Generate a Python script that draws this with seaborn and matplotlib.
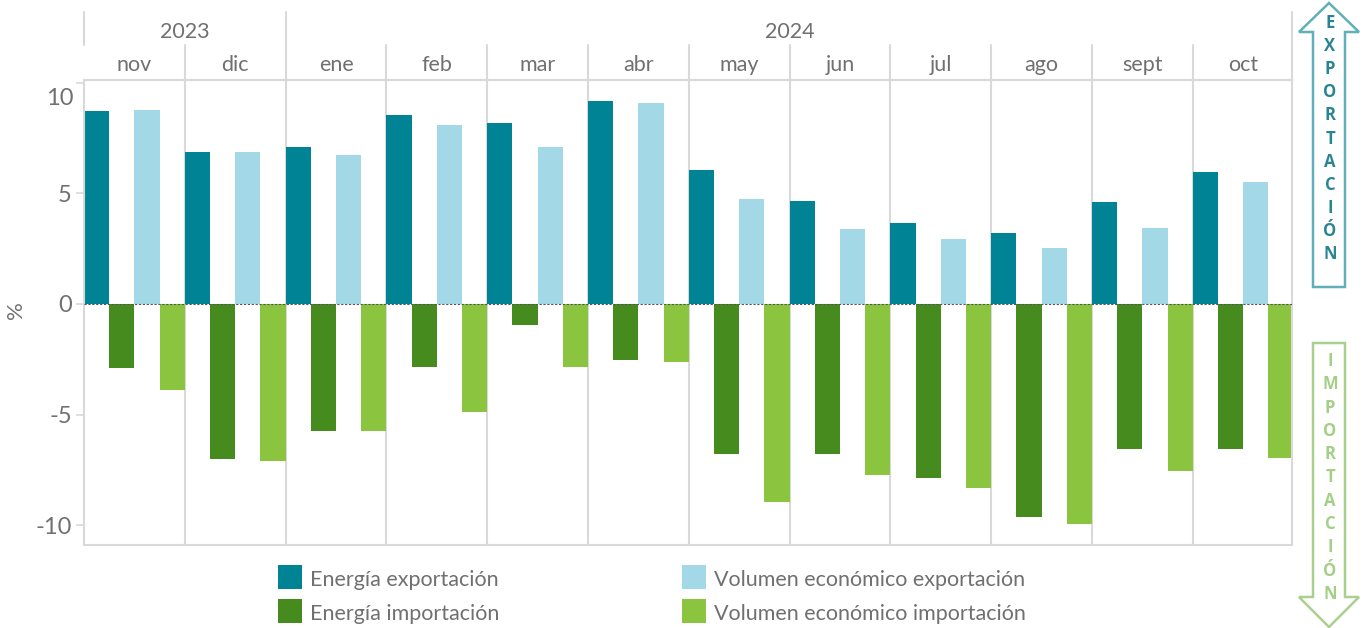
import matplotlib
matplotlib.use("Agg")
import matplotlib.pyplot as plt
from matplotlib.lines import Line2D
from matplotlib.patches import Polygon, Rectangle
import pandas as pd
import seaborn as sns

months = ["nov", "dic", "ene", "feb", "mar", "abr", "may", "jun", "jul", "ago", "sept", "oct"]
energia_exp = [8.73, 6.88, 7.10, 8.55, 8.19, 9.19, 6.06, 4.66, 3.67, 3.21, 4.62, 5.97]
energia_imp = [-2.90, -7.01, -5.75, -2.85, -0.95, -2.53, -6.79, -6.79, -7.87, -9.64, -6.56, -6.56]
volumen_exp = [8.78, 6.88, 6.74, 8.10, 7.10, 9.10, 4.75, 3.39, 2.94, 2.53, 3.44, 5.52]
volumen_imp = [-3.89, -7.10, -5.75, -4.89, -2.85, -2.62, -8.96, -7.74, -8.33, -9.95, -7.56, -6.97]
series_names = ["Energía exportación", "Energía importación", "Volumen económico exportación", "Volumen económico importación"]
series_vals = [energia_exp, energia_imp, volumen_exp, volumen_imp]
colors = ["#008394", "#458b1e", "#a3d8e6", "#8bc53f"]
years = [("2023", 0, 2), ("2024", 2, 12)]

W, H = 1367, 628
sns.set_theme(style="white")
plt.rcParams["font.family"] = ["Lato", "DejaVu Sans"]
TXT = "#707070"
GRID = "#d9d9d9"

df = pd.DataFrame({
    "mes": months * 4,
    "serie": [s for s in series_names for _ in months],
    "valor": [v for vals in series_vals for v in vals],
})

fig = plt.figure(figsize=(W / 100, H / 100), dpi=100, facecolor="white")
L, R, T, B = 84, 1292, 80, 545
mw = 100.8
ax = fig.add_axes([L / W, 1 - B / H, (R - L) / W, (B - T) / H])
sns.barplot(data=df, x="mes", y="valor", hue="serie", hue_order=series_names, palette=colors,
            order=months, width=1.0, gap=0, dodge=True, saturation=1, legend=False, ax=ax, zorder=2,
            linewidth=0, edgecolor="none")
ax.set_xlim(-0.5, -0.5 + (R - L) / mw)
ax.set_ylim(-10.9, 10.13)
ax.set_xlabel("")
ax.set_ylabel("")
ax.set_xticks([])
ax.set_yticks([-10, -5, 0, 5, 10])
ax.set_yticklabels(["-10", "-5", "0", "5", ""])
ax.tick_params(axis="y", left=True, length=5.8, width=1.2, color=GRID, labelsize=17, labelcolor=TXT, pad=3)
for s in ax.spines.values():
    s.set_color(GRID)
    s.set_linewidth(1.5)
ax.axhline(0, color="#555555", lw=0.8, ls=(0, (2, 1.5)), zorder=3)
for i in range(1, 12):
    ax.axvline(i - 0.5, color=GRID, lw=1.5, zorder=1)


def px_line(x0, y0, x1, y1, color=GRID, lw=1.5):
    fig.add_artist(Line2D([x0 / W, x1 / W], [1 - y0 / H, 1 - y1 / H], color=color, lw=lw))


def px_text(x, y, s, size=15.5, **kw):
    kw.setdefault("color", TXT)
    fig.text(x / W, 1 - y / H, s, fontsize=size, ha="center", va="center", **kw)


for i, m in enumerate(months):
    px_text(L + (i + 0.5) * mw, 65, m)
    if i > 0:
        px_line(L + i * mw, 45, L + i * mw, T)
for name, a, b in years:
    px_text(L + (a + b) / 2 * mw, 32, name)
    px_line(L + a * mw, 12, L + a * mw, 45)
px_line(R, 12, R, 45)
px_line(R, 45, R, T)
px_line(L, T, R, T)
px_text(60, 98.5, "10", size=17)
px_text(16, 310, "%", size=16, rotation=90)

# legend
entries = [(278, 577, 0), (278, 611, 1), (682, 577, 2), (682, 611, 3)]
for x, y, k in entries:
    fig.add_artist(Rectangle((x / W, 1 - (y + 12) / H), 24 / W, 24 / H, transform=fig.transFigure,
                             facecolor=colors[k], edgecolor="none"))
    fig.text((x + 32) / W, 1 - (y + 3) / H, series_names[k], fontsize=15.5, color=TXT, ha="left", va="center")


# arrows
def arrow(cx, half, head_half, y_tail, y_neck, y_tip, edge):
    pts = [(cx - half, y_tail), (cx + half, y_tail), (cx + half, y_neck), (cx + head_half, y_neck),
           (cx, y_tip), (cx - head_half, y_neck), (cx - half, y_neck)]
    fig.add_artist(Polygon([(x / W, 1 - y / H) for x, y in pts], closed=True, transform=fig.transFigure,
                           facecolor="white", edgecolor=edge, lw=1.8))


arrow(1329, 16, 30, 287, 32, 3, "#5fb0b8")
arrow(1329, 16, 30, 343, 597, 627, "#a9d08e")
for i, c in enumerate("EXPORTACIÓN"):
    px_text(1330, 23 + i * 23.1, c, size=12, color="#2a8592", fontweight="bold", family="Open Sans")
for i, c in enumerate("IMPORTACIÓN"):
    px_text(1330, 361 + i * 23.3, c, size=12, color="#a3cf86", fontweight="bold", family="Open Sans")

fig.savefig("out.png", dpi=100)
